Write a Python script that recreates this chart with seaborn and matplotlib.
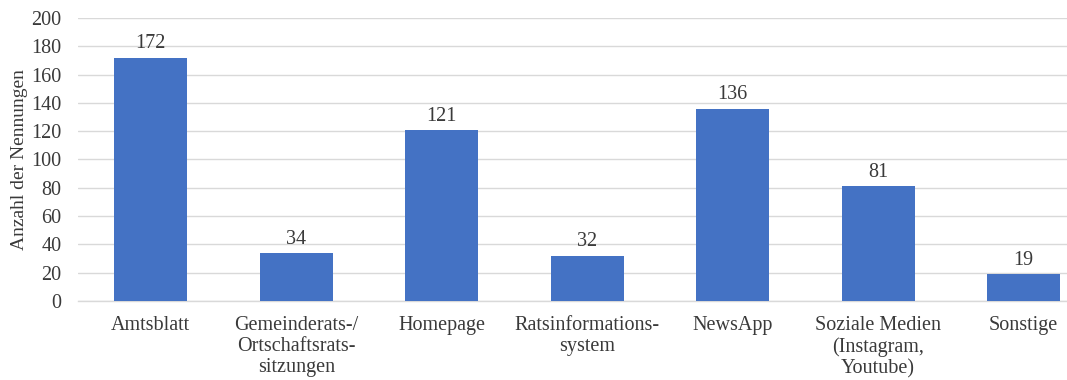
import matplotlib
matplotlib.use("Agg")
import matplotlib.pyplot as plt
import seaborn as sns
import pandas as pd

categories = [
    "Amtsblatt",
    "Gemeinderats-/\nOrtschaftsrats-\nsitzungen",
    "Homepage",
    "Ratsinformations-\nsystem",
    "NewsApp",
    "Soziale Medien\n(Instagram,\nYoutube)",
    "Sonstige",
]
counts = [172, 34, 121, 32, 136, 81, 19]
y_ticks = [0, 20, 40, 60, 80, 100, 120, 140, 160, 180, 200]

sns.set_theme(style="white")
plt.rcParams["font.family"] = ["Liberation Serif", "DejaVu Serif"]

text_color = "#3a3a3a"
df = pd.DataFrame({"Kanal": categories, "Nennungen": counts})

fig = plt.figure(figsize=(10.67, 3.8), dpi=100)
ax = fig.add_axes([0.0731, 0.208, 0.9545, 0.7446])

sns.barplot(data=df, x="Kanal", y="Nennungen", color="#4472C4",
            width=0.5, saturation=1, linewidth=0, ax=ax, zorder=3)

for i, v in enumerate(counts):
    ax.text(i, v + 3, str(v), ha="center", va="bottom",
            fontsize=14.5, color=text_color)

ax.set_ylim(0, 200)
ax.set_xlim(-0.5, len(categories) - 0.5)
ax.set_yticks(y_ticks)
ax.set_yticklabels([str(t) for t in y_ticks], fontsize=14.5, color=text_color)
ax.tick_params(axis="x", labelsize=14.5, colors=text_color, length=0, pad=11)
ax.tick_params(axis="y", length=0, pad=12)
for lbl in ax.get_xticklabels():
    lbl.set_linespacing(1.15)

ax.grid(axis="y", color="#d9d9d9", linewidth=1, zorder=0)
ax.set_axisbelow(True)
for side in ["top", "right", "left"]:
    ax.spines[side].set_visible(False)
ax.spines["bottom"].set_color("#d9d9d9")
ax.spines["bottom"].set_linewidth(1)

ax.set_xlabel("")
ax.set_ylabel("Anzahl der Nennungen", fontsize=14, color=text_color, labelpad=2)

fig.savefig("out.png", dpi=100)
